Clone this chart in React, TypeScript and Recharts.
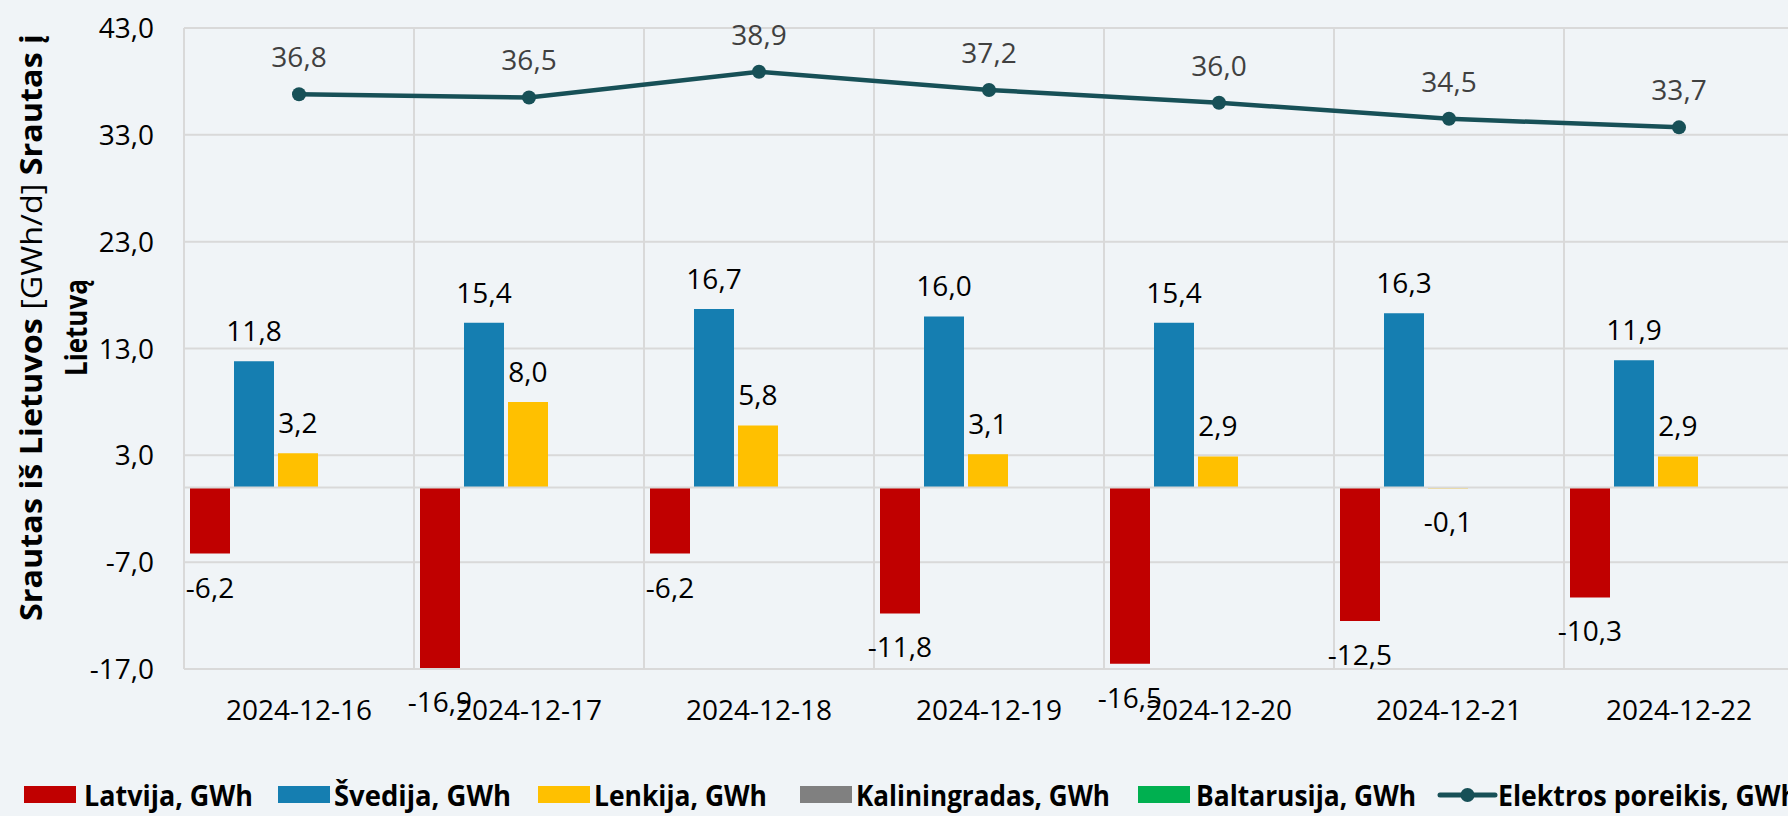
import React from 'react';
import {
  ComposedChart,
  Bar,
  Line,
  XAxis,
  YAxis,
  CartesianGrid,
  ReferenceLine,
  LabelList,
  Legend,
} from 'recharts';

const dates = ['2024-12-16', '2024-12-17', '2024-12-18', '2024-12-19', '2024-12-20', '2024-12-21', '2024-12-22'];
const latvija = [-6.2, -16.9, -6.2, -11.8, -16.5, -12.5, -10.3];
const svedija = [11.8, 15.4, 16.7, 16.0, 15.4, 16.3, 11.9];
const lenkija = [3.2, 8.0, 5.8, 3.1, 2.9, -0.1, 2.9];
const kaliningradas = [0, 0, 0, 0, 0, 0, 0];
const baltarusija = [0, 0, 0, 0, 0, 0, 0];
const poreikis = [36.8, 36.5, 38.9, 37.2, 36.0, 34.5, 33.7];
const yTicks = [-17, -7, 3, 13, 23, 33, 43];

const data = dates.map((d, i) => ({
  date: d,
  latvija: latvija[i],
  svedija: svedija[i],
  lenkija: lenkija[i],
  kaliningradas: kaliningradas[i],
  baltarusija: baltarusija[i],
  poreikis: poreikis[i],
}));

const C_LV = '#C00000';
const C_SE = '#157EB1';
const C_PL = '#FFC000';
const C_KA = '#808080';
const C_BY = '#00B050';
const C_LINE = '#175057';
const GRID = '#D9D9D9';
const BG = '#F0F4F7';
const FONT = "'Open Sans', sans-serif";

const fmt = (v: number) => v.toFixed(1).replace('.', ',');

const getBox = (props: any) => {
  const vb = props.viewBox || {};
  return {
    x: vb.x ?? props.x ?? 0,
    y: vb.y ?? props.y ?? 0,
    width: vb.width ?? props.width ?? 0,
    height: vb.height ?? props.height ?? 0,
  };
};

const BarLabel = (props: any) => {
  const { value } = props;
  if (value == null || value === 0) return null;
  const b = getBox(props);
  const top = Math.min(b.y, b.y + b.height);
  const bottom = Math.max(b.y, b.y + b.height);
  const cx = b.x + b.width / 2;
  const ty = value < 0 ? bottom + 44 : top - 20;
  return (
    <text x={cx} y={ty} textAnchor="middle" fontFamily={FONT} fontSize={28} fill="#000">
      {fmt(Number(value))}
    </text>
  );
};

const LineLabel = (props: any) => {
  const { value } = props;
  if (value == null) return null;
  const b = getBox(props);
  const cx = b.x + b.width / 2;
  return (
    <text x={cx} y={b.y - 27} textAnchor="middle" fontFamily={FONT} fontSize={28} fill="#404040">
      {fmt(Number(value))}
    </text>
  );
};

const YTick = (props: any) => {
  const { x, y, payload } = props;
  return (
    <text x={x - 30} y={y} dy={10} textAnchor="end" fontFamily={FONT} fontSize={28} fill="#000">
      {fmt(Number(payload.value))}
    </text>
  );
};

const XTick = (props: any) => {
  const { x, y, payload } = props;
  return (
    <text x={x} y={y} dy={51} textAnchor="middle" fontFamily={FONT} fontSize={28} fill="#000">
      {payload.value}
    </text>
  );
};

const YLabel = (props: any) => {
  const vb = props.viewBox || { y: 28, height: 641 };
  const cy = vb.y + vb.height / 2 - 21;
  return (
    <g>
      <text
        transform={`translate(42, ${cy}) rotate(-90)`}
        textAnchor="middle"
        fontFamily={FONT}
        fontSize={30}
        fill="#000"
        textLength={587}
        lengthAdjust="spacingAndGlyphs"
      >
        <tspan fontWeight="bold">Srautas iš Lietuvos </tspan>
        <tspan>[GWh/d]</tspan>
        <tspan fontWeight="bold"> Srautas į</tspan>
      </text>
      <text
        transform={`translate(87, ${cy}) rotate(-90)`}
        textAnchor="middle"
        fontFamily={FONT}
        fontSize={30}
        fontWeight="bold"
        fill="#000"
        textLength={97}
        lengthAdjust="spacingAndGlyphs"
      >
        Lietuvą
      </text>
    </g>
  );
};

const legendItems = [
  { name: 'Latvija, GWh', color: C_LV, kind: 'rect', x: 24, tx: 84, tw: 169 },
  { name: 'Švedija, GWh', color: C_SE, kind: 'rect', x: 278, tx: 334, tw: 177 },
  { name: 'Lenkija, GWh', color: C_PL, kind: 'rect', x: 538, tx: 594, tw: 173 },
  { name: 'Kaliningradas, GWh', color: C_KA, kind: 'rect', x: 800, tx: 856, tw: 254 },
  { name: 'Baltarusija, GWh', color: C_BY, kind: 'rect', x: 1138, tx: 1196, tw: 220 },
  { name: 'Elektros poreikis, GWh', color: C_LINE, kind: 'line', x: 1440, tx: 1498, tw: 300 },
];

const LegendContent = () => (
  <svg width={1800} height={40} style={{ display: 'block' }}>
    {legendItems.map((it) => (
      <g key={it.name}>
        {it.kind === 'rect' ? (
          <rect x={it.x} y={10} width={52} height={17} fill={it.color} />
        ) : (
          <g>
            <line x1={it.x} y1={19} x2={it.x + 55} y2={19} stroke={it.color} strokeWidth={5} strokeLinecap="round" />
            <circle cx={it.x + 27.5} cy={19} r={7} fill={it.color} />
          </g>
        )}
        <text
          x={it.tx}
          y={30}
          fontFamily={FONT}
          fontSize={29}
          fontWeight="bold"
          fill="#000"
          textLength={it.tw}
          lengthAdjust="spacingAndGlyphs"
        >
          {it.name}
        </text>
      </g>
    ))}
  </svg>
);

const verticalGen = ({ offset }: any) => {
  const n = dates.length;
  return Array.from({ length: n + 1 }, (_, i) => offset.left + (i * offset.width) / n);
};

export default function App() {
  return (
    <div
      style={{
        position: 'absolute',
        left: 0,
        top: 0,
        width: 1788,
        height: 816,
        overflow: 'hidden',
        background: BG,
      }}
    >
      <ComposedChart
        width={1800}
        height={816}
        data={data}
        margin={{ top: 28, right: 6, bottom: 0, left: 0 }}
        barCategoryGap={6}
        barGap={4}
      >
        <CartesianGrid stroke={GRID} strokeWidth={2} verticalCoordinatesGenerator={verticalGen} />
        <XAxis
          dataKey="date"
          height={107}
          axisLine={false}
          tickLine={false}
          tickSize={0}
          tickMargin={0}
          interval={0}
          tick={<XTick />}
        />
        <YAxis
          type="number"
          width={184}
          domain={[-17, 43]}
          ticks={yTicks}
          interval={0}
          axisLine={false}
          tickLine={false}
          tickSize={0}
          tickMargin={0}
          tick={<YTick />}
          label={<YLabel />}
        />
        <ReferenceLine y={0} stroke={GRID} strokeWidth={2} />
        <Bar dataKey="latvija" name="Latvija, GWh" fill={C_LV} isAnimationActive={false}>
          <LabelList dataKey="latvija" content={<BarLabel />} />
        </Bar>
        <Bar dataKey="svedija" name="Švedija, GWh" fill={C_SE} isAnimationActive={false}>
          <LabelList dataKey="svedija" content={<BarLabel />} />
        </Bar>
        <Bar dataKey="lenkija" name="Lenkija, GWh" fill={C_PL} isAnimationActive={false}>
          <LabelList dataKey="lenkija" content={<BarLabel />} />
        </Bar>
        <Bar dataKey="kaliningradas" name="Kaliningradas, GWh" fill={C_KA} isAnimationActive={false} />
        <Bar dataKey="baltarusija" name="Baltarusija, GWh" fill={C_BY} isAnimationActive={false} />
        <Line
          type="linear"
          dataKey="poreikis"
          name="Elektros poreikis, GWh"
          stroke={C_LINE}
          strokeWidth={4.5}
          dot={{ r: 7, fill: C_LINE, stroke: C_LINE, strokeWidth: 0 }}
          activeDot={false}
          isAnimationActive={false}
        >
          <LabelList dataKey="poreikis" content={<LineLabel />} />
        </Line>
        <Legend
          verticalAlign="bottom"
          content={<LegendContent />}
          wrapperStyle={{ height: 40, left: 0, width: 1800 }}
        />
      </ComposedChart>
    </div>
  );
}
